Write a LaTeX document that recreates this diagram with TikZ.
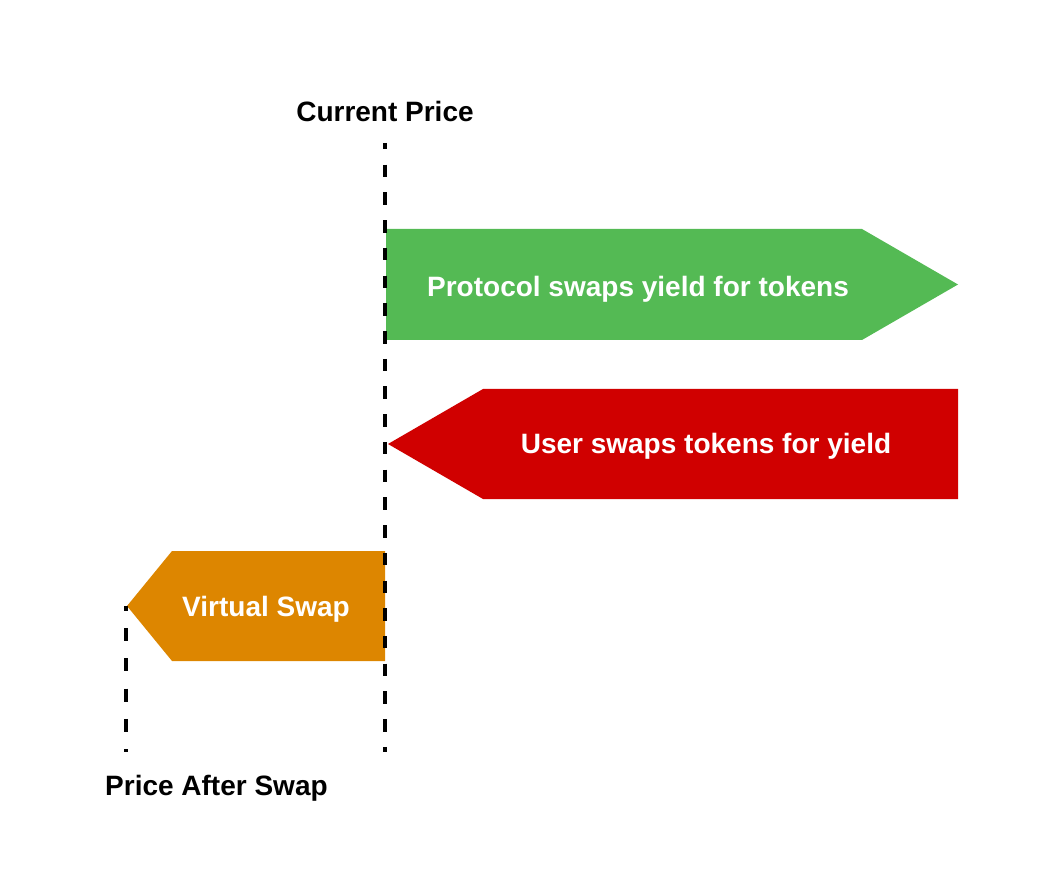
\documentclass[tikz,border=0pt]{standalone}
\usepackage{fontspec}
\setmainfont{Liberation Sans}
\definecolor{cgreen}{RGB}{84,186,84}
\definecolor{cred}{RGB}{208,0,0}
\definecolor{corange}{RGB}{221,134,0}
\begin{document}
\begin{tikzpicture}[x=1pt,y=-1pt,
  guide/.style={line width=3.2pt,dash pattern=on 12.5pt off 15.22pt,dash phase=6pt},
  lbl/.style={font=\bfseries\fontsize{28}{31}\selectfont,inner sep=0pt},
  wlbl/.style={lbl,text=white}]
\useasboundingbox (0,0) rectangle (1037,877);
\coordinate (c1) at (385,143);
\coordinate (c2) at (385,752);
\coordinate (p1) at (126,606);
\coordinate (p2) at (126,752);
\fill[cgreen] (386,229) -- (862,229) -- (958,284.5) -- (862,340) -- (386,340) -- cycle;
\fill[cred] (958,389) -- (483,389) -- (388,444) -- (483,499) -- (958,499) -- cycle;
\fill[corange] (385,551) -- (172,551) -- (127,606) -- (172,661) -- (385,661) -- cycle;
\draw[guide] (c1) -- (c2);
\draw[guide,dash pattern=on 13pt off 17.2pt,dash phase=8pt] (p1) -- (p2);
\node[lbl,anchor=base] (cp) at (385,122) {Current Price};
\node[lbl,anchor=base west] (pa) at (105,795) {Price After Swap};
\node[wlbl] (g) at (638,289) {Protocol swaps yield for tokens};
\node[wlbl] (r) at (706,446) {User swaps tokens for yield};
\node[wlbl] (o) at (266,609) {Virtual Swap};
\end{tikzpicture}
\end{document}
